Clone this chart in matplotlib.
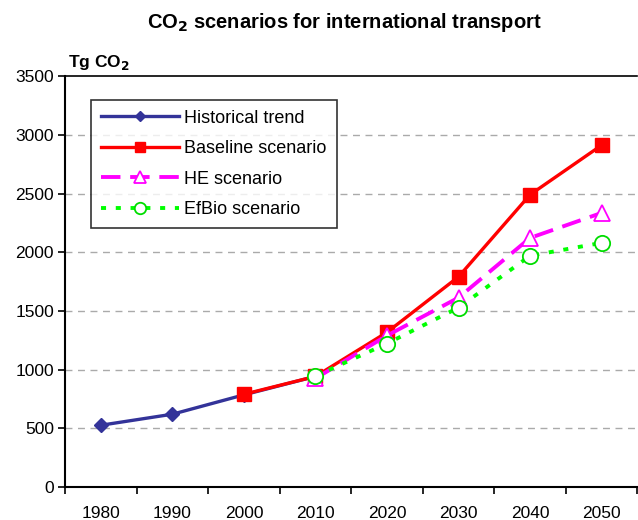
import matplotlib
matplotlib.use("Agg")
import matplotlib.pyplot as plt
import numpy as np

plt.rcParams["font.family"] = ["Liberation Sans", "DejaVu Sans"]

years = ["1980", "1990", "2000", "2010", "2020", "2030", "2040", "2050"]

# values (Tg CO2)
historical = [526, 620, 785, 942]
baseline = [790, 942, 1318, 1791, 2490, 2912]
he = [925, 1290, 1613, 2122, 2335]
efbio = [945, 1222, 1528, 1970, 2080]

x = np.arange(len(years))

fig = plt.figure(figsize=[6.38, 5.2], dpi=100)
ax = fig.add_axes([0.102, 0.0635, 0.897, 0.79])

ax.plot(x[:4], historical, color="#333399", lw=2.4, marker="D", ms=7,
        label="Historical trend", zorder=3)
ax.plot(x[2:], baseline, color="red", lw=2.4, marker="s", ms=10,
        label="Baseline scenario", zorder=4)
ax.plot(x[3:], he, color="#FF00FF", lw=2.8, ls=(0, (5, 2.5)), marker="^", ms=11,
        mfc="white", mec="#FF00FF", mew=1.3, label="HE scenario", zorder=5)
ax.plot(x[3:], efbio, color="#00FF00", lw=2.8, ls=(0, (1.3, 2.5)), marker="o", ms=11,
        mfc="white", mec="#00DD00", mew=1.3, label="EfBio scenario", zorder=6)

ax.set_xlim(-0.5, 7.5)
ax.set_ylim(0, 3500)
ax.set_yticks(np.arange(0, 3501, 500))
ax.set_xticks(x)
ax.set_xticklabels(years)
ax.set_xticks(np.arange(-0.5, 8, 1), minor=True)
ax.tick_params(axis="x", which="major", length=0, pad=14, labelsize=12.5)
ax.tick_params(axis="x", which="minor", length=5, width=1.2, direction="out")
ax.tick_params(axis="y", length=5, width=1.2, direction="out", labelsize=12.5, pad=3)

for v in np.arange(500, 3001, 500):
    ax.axhline(v, color="#AAAAAA", lw=1, ls=(0, (5, 4)), zorder=1)

for side in ["left", "bottom"]:
    ax.spines[side].set_linewidth(1.5)
ax.spines["top"].set_linewidth(1.2)
ax.spines["right"].set_visible(False)

leg = ax.legend(loc="upper left", bbox_to_anchor=(0.03, 0.965), fontsize=13,
                frameon=True, fancybox=False, edgecolor="black", handlelength=4.3,
                labelspacing=0.75, borderpad=0.55, handletextpad=0.3, markerscale=0.75)
leg.get_frame().set_linewidth(1.2)

fig.text(0.54, 0.957, "CO$_\\mathbf{2}$ scenarios for international transport",
         ha="center", va="center", fontsize=14.5, fontweight="bold")
fig.text(0.107, 0.88, "Tg CO$_\\mathbf{2}$", ha="left", va="center",
         fontsize=12.5, fontweight="bold")

plt.savefig("out.png", format="png")
